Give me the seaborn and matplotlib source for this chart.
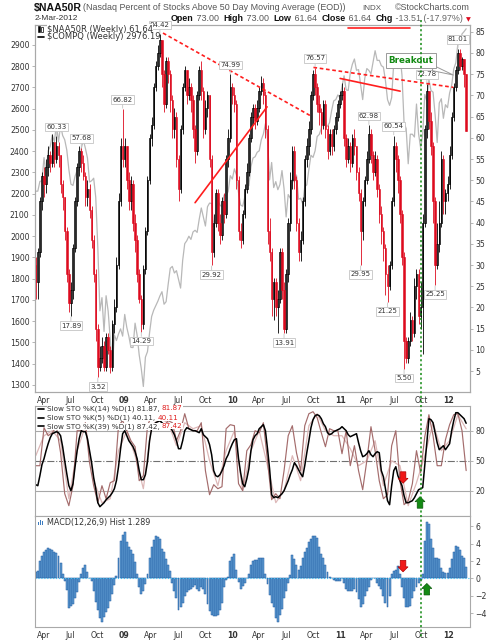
import numpy as np
import pandas as pd
import matplotlib
matplotlib.use("Agg")
import matplotlib.pyplot as plt
import matplotlib.dates as mdates
import matplotlib.transforms as mtransforms
from matplotlib.lines import Line2D
from matplotlib.patches import Polygon, Rectangle
import seaborn as sns

# ---------------- data ----------------
FIRST_WEEK = "2008-03-07"
naa_open_first = 30

naa_close = [
    26, 33, 45, 51, 49, 53, 56, 54, 59, 55,
    58, 56, 49, 46, 38, 28, 21, 24, 34, 45,
    53, 57, 54, 51, 46, 48, 43, 36, 28, 15,
    6, 8, 11, 6, 13, 10, 6, 16, 20, 30,
    45, 58, 55, 58, 50, 45, 49, 40, 36, 28,
    22, 16, 29, 38, 50, 60, 63, 72, 77, 80,
    83, 75, 68, 78, 75, 69, 62, 65, 55, 48,
    62, 72, 76, 70, 72, 69, 62, 57, 70, 76,
    71, 62, 67, 70, 55, 33, 40, 47, 40, 37,
    45, 42, 55, 60, 72, 70, 68, 50, 38, 36,
    42, 48, 52, 60, 65, 67, 64, 67, 71, 73,
    70, 62, 38, 33, 22, 26, 20, 22, 33, 24,
    15, 28, 40, 50, 57, 50, 40, 33, 36, 45,
    55, 58, 62, 70, 75, 72, 68, 66, 63, 68,
    62, 57, 61, 58, 62, 65, 68, 70, 71, 60,
    55, 58, 54, 60, 58, 52, 47, 38, 45, 50,
    55, 61, 56, 52, 55, 48, 42, 38, 34, 28,
    25, 30, 45, 58, 55, 50, 42, 32, 12, 8,
    12, 17, 14, 25, 28, 18, 20, 40, 62, 71,
    64, 58, 45, 30, 35, 40, 55, 45, 47, 49,
    56, 65, 72, 76, 80, 77, 78.5, 75.15, 61.64,
]
naa_high = [
    32, 34, 46, 52, 53, 55, 58, 57, 61, 59,
    60.33, 59, 56, 50, 46, 39, 29, 26, 35, 46,
    54, 58, 57.68, 56, 52, 50, 49, 44, 37, 29,
    16, 11, 13, 12, 14, 14, 11, 17, 22, 32,
    47, 60, 66.82, 60, 58, 52, 51, 50, 42, 37,
    29, 23, 30, 39, 51, 61, 65, 73, 78, 82,
    84.42, 83, 76, 79, 79, 76, 70, 67, 66, 56,
    63, 73, 77, 76, 74, 73, 70, 63, 71, 77,
    78, 72, 69, 71, 70, 56, 42, 48, 48, 42,
    46, 47, 56, 62, 74.99, 73, 72, 69, 51, 40,
    43, 49, 54, 61, 66, 68, 68, 69, 72, 74.5,
    74, 71, 63, 41, 34, 27, 27, 24, 34, 34,
    26, 29, 41, 52, 58, 58, 51, 41, 38, 46,
    56, 60, 64, 71, 76, 76.57, 73, 70, 67, 69,
    69, 63, 62, 62, 63, 66, 69, 71, 73, 72,
    61, 60, 59, 61, 62, 58, 53, 48, 46, 51,
    57, 62.98, 62, 57, 57, 56, 49, 44, 39, 35,
    30, 31, 46, 60.54, 59, 56, 51, 43, 33, 13,
    13, 19, 18, 27, 29, 29, 26, 42, 63, 72.78,
    71, 66, 59, 46, 40, 45, 57, 56, 48, 51,
    58, 66, 73, 77, 81.01, 81, 79, 78.5, 75.15,
]
naa_low = [
    22, 22, 32, 43, 46, 47, 51, 52, 53, 53,
    54, 53, 47, 43, 36, 26, 19, 17.89, 22, 33,
    44, 51, 52, 50, 44, 44, 41, 34, 26, 12,
    3.52, 5, 7, 5, 5, 9, 4.5, 5, 14, 19,
    29, 44, 53, 53, 48, 43, 43, 38, 33, 26,
    21, 14.29, 15, 28, 37, 49, 58, 62, 71, 76,
    79, 72, 66, 67, 73, 66, 60, 60, 53, 45,
    47, 61, 71, 68, 69, 66, 60, 54, 56, 69,
    69, 60, 61, 65, 53, 29.92, 32, 39, 38, 35,
    36, 40, 41, 53, 59, 68, 66, 48, 36, 34,
    35, 41, 47, 51, 59, 63, 62, 63, 66, 70,
    68, 60, 35, 31, 18, 17, 18, 14, 21, 22,
    13.91, 14, 26, 38, 48, 48, 38, 31, 31, 35,
    44, 53, 56, 61, 69, 70, 66, 63, 61, 62,
    60, 55, 56, 56, 57, 61, 64, 67, 69, 58,
    53, 54, 52, 53, 56, 50, 45, 29.95, 36, 44,
    49, 54, 54, 50, 51, 46, 40, 35, 31, 23,
    21.25, 24, 29, 44, 52, 47, 40, 30, 5.5, 7,
    7, 11, 12, 13, 22, 16, 15, 9, 39, 60,
    62, 56, 40, 25.25, 29, 33, 39, 42, 42, 45,
    48, 55, 64, 71, 75, 76, 76, 72, 61.64,
]
compq_close = [
    2212, 2212, 2258, 2261, 2370, 2290, 2402, 2423, 2476, 2445,
    2528, 2444, 2523, 2474, 2454, 2406, 2315, 2245, 2239, 2282,
    2310, 2310, 2414, 2452, 2414, 2368, 2255, 2261, 2273, 2183,
    1947, 1649, 1711, 1552, 1720, 1647, 1516, 1384, 1536, 1509,
    1540, 1564, 1530, 1632, 1571, 1529, 1477, 1476, 1591, 1534,
    1441, 1377, 1293, 1431, 1457, 1545, 1622, 1652, 1673, 1694,
    1719, 1739, 1680, 1692, 1774, 1849, 1858, 1827, 1838, 1797,
    1756, 1886, 1965, 1979, 2000, 1985, 2020, 2028, 2018, 2080,
    2133, 2090, 2048, 2139, 2156, 2154, 2045, 2112, 2167, 2147,
    2138, 2194, 2190, 2211, 2285, 2269, 2317, 2288, 2205, 2147,
    2141, 2183, 2243, 2238, 2327, 2368, 2374, 2395, 2402, 2454,
    2481, 2530, 2461, 2265, 2347, 2229, 2257, 2219, 2243, 2309,
    2223, 2091, 2196, 2179, 2269, 2255, 2288, 2174, 2179, 2153,
    2233, 2242, 2315, 2381, 2371, 2402, 2469, 2479, 2507, 2578,
    2518, 2518, 2535, 2592, 2637, 2643, 2665, 2653, 2703, 2755,
    2689, 2686, 2769, 2809, 2834, 2781, 2784, 2715, 2643, 2743,
    2789, 2780, 2764, 2820, 2873, 2827, 2828, 2803, 2796, 2732,
    2643, 2616, 2652, 2816, 2859, 2789, 2859, 2756, 2532, 2507,
    2341, 2480, 2480, 2467, 2622, 2483, 2415, 2479, 2667, 2637,
    2737, 2686, 2678, 2572, 2441, 2627, 2647, 2555, 2619, 2605,
    2674, 2710, 2787, 2816, 2906, 2903, 2952, 2963, 2976.19,
]
sto_k39 = [
    26, 25, 35, 46, 52, 60, 67, 73, 77, 78,
    79, 78, 75, 64, 50, 37, 25, 20, 27, 44,
    60, 72, 80, 79, 79, 72, 60, 48, 33, 22,
    8, 4, 6, 8, 11, 13, 15, 18, 22, 30,
    44, 62, 77, 80, 75, 70, 67, 64, 59, 52,
    40, 31, 31, 36, 49, 70, 82, 86, 88, 89,
    90, 88, 86, 85, 86, 84, 80, 76, 70, 62,
    62, 70, 80, 83, 82, 81, 80, 80, 79, 78,
    82, 76, 74, 72, 66, 56, 40, 35, 34, 36,
    40, 45, 52, 56, 62, 67, 71, 72, 52, 38,
    27, 24, 32, 42, 60, 71, 75, 77, 82, 84,
    86, 80, 62, 42, 16, 13, 14, 13, 15, 17,
    20, 25, 30, 36, 41, 48, 45, 41, 37, 34,
    45, 58, 70, 83, 91, 95, 96, 95, 92, 87,
    84, 78, 76, 77, 79, 80, 81, 82, 84, 82,
    80, 76, 74, 75, 76, 77, 68, 60, 54, 55,
    57, 60, 56, 54, 57, 59, 58, 40, 34, 22,
    10, 6, 25, 40, 44, 35, 30, 25, 15, 8,
    8, 9, 10, 13, 17, 21, 22, 23, 45, 68,
    92, 91, 88, 78, 68, 61, 63, 65, 61, 64,
    67, 80, 90, 98, 98, 96, 94, 92, 87.42,
]
sto_k5_biweekly = [
    45, 45, 83, 75, 78, 84, 58, 17, 5, 25,
    80, 80, 88, 48, 25, 8, 25, 12, 28, 30,
    85, 90, 80, 70, 64, 30, 35, 85, 95, 92,
    90, 85, 90, 88, 70, 80, 97, 82, 80, 80,
    88, 40, 16, 26, 22, 24, 82, 86, 85, 27,
    20, 60, 66, 80, 78, 88, 50, 11, 17, 12,
    40, 75, 85, 58, 40, 85, 97, 99, 93, 78,
    64, 82, 80, 80, 57, 80, 45, 65, 40, 21,
    50, 84, 60, 30, 12, 16, 65, 80, 30, 6,
    10, 27, 60, 38, 74, 96, 75, 45, 45, 71,
    86, 96, 97, 80, 40.11,
]
sto_k14_4weekly = [
    55, 75, 80, 70, 12, 60, 85, 30, 8, 12,
    60, 80, 55, 22, 85, 92, 88, 65, 88, 82,
    85, 50, 25, 60, 80, 20, 60, 80, 45, 8,
    20, 55, 30, 85, 97, 80, 75, 75, 62, 45,
    50, 70, 25, 50, 45, 5, 28, 55, 88, 60,
    70, 96, 81.87,
]
macd_hist = [
    0.8, 0.9, 2.0, 2.6, 3.1, 3.3, 3.5, 3.4, 3.3, 3.0,
    2.9, 2.6, 1.8, 0.5, -0.3, -1.3, -3.4, -3.2, -2.9, -2.3,
    -1.6, -0.4, 0.5, 1.2, 1.5, 0.7, 0.1, -0.3, -1.5, -2.7,
    -3.6, -4.6, -5.0, -4.4, -3.9, -3.4, -2.6, -1.8, -0.8, 0.3,
    2.3, 4.3, 5.0, 5.3, 4.2, 3.6, 3.3, 2.8, 1.9, 0.5,
    -1.0, -1.8, -1.5, -0.6, 0.5, 2.3, 3.6, 4.4, 4.9, 4.8,
    4.6, 3.4, 3.0, 2.2, 1.6, 0.9, -0.5, -1.5, -2.2, -3.6,
    -3.3, -2.8, -2.0, -1.6, -1.3, -1.2, -1.0, -0.8, -1.2, -1.4,
    -1.0, -1.2, -1.8, -2.9, -3.8, -4.2, -4.3, -4.3, -4.2, -3.6,
    -2.8, -1.0, -0.2, 0.2, 2.0, 2.5, 2.8, 1.0, -0.4, -1.2,
    -0.9, -0.5, 0.1, 0.5, 1.6, 2.0, 2.1, 2.1, 2.3, 2.3,
    2.4, 0.5, -0.6, -1.9, -2.8, -3.3, -4.6, -5.0, -4.2, -3.5,
    -2.3, -1.5, -0.5, 0.4, 2.7, 2.2, 1.6, 1.0, 1.4, 2.4,
    3.0, 3.5, 4.2, 4.6, 4.9, 4.9, 4.7, 3.6, 2.8, 2.4,
    1.5, 0.8, 0.2, 0.0, -0.2, -0.3, -0.3, -0.3, 0.1, -0.5,
    -1.2, -1.5, -1.5, -1.4, -1.2, -1.6, -2.4, -3.3, -3.0, -2.0,
    -1.5, -1.0, -0.2, 0.1, 0.0, -0.5, -0.9, -1.2, -2.0, -2.8,
    -3.3, -2.0, 0.5, 0.9, 1.0, 1.4, 0.5, -1.0, -2.2, -3.3,
    -3.3, -3.2, -2.2, -1.5, -1.0, -0.5, -0.2, 0.5, 4.3, 6.5,
    6.3, 4.5, 3.5, 2.4, 2.3, 2.2, 1.2, 0.8, 0.6, 0.6,
    1.2, 2.2, 3.0, 3.7, 3.6, 3.3, 2.6, 2.3, 1.289,
]

high_label_weeks = [10, 22, 42, 60, 94, 135, 161, 173, 189, 204]
low_label_weeks = [17, 30, 51, 85, 120, 157, 170, 178, 193]

# annotation lines: (week index, value) endpoints
dashed_trends = [((61.5, 84.7), (133.5, 65.0)), ((134.2, 76.6), (201.8, 71.9))]
solid_trends = [((77.0, 44.7), (111.8, 67.3)), ((147.1, 74.0), (176.1, 71.0)),
                ((151.0, 85.95), (181.0, 85.95))]
breakout_week = 186.1
breakout_tip = (201.8, 74.8)
breakout_text_at = (181.4, 78.2)
sto_arrows = [(177.5, 27.4, "down"), (185.7, 14.0, "up")]
macd_arrows = [(177.5, 0.76, "down"), (189.0, -0.58, "up")]

TICK_DATES = ["2008-04-01", "2008-07-01", "2008-10-01", "2009-01-01",
              "2009-04-01", "2009-07-01", "2009-10-01", "2010-01-01",
              "2010-04-01", "2010-07-01", "2010-10-01", "2011-01-01",
              "2011-04-01", "2011-07-01", "2011-10-01", "2012-01-01"]
TICK_LABELS = ["Apr", "Jul", "Oct", "09", "Apr", "Jul", "Oct", "10",
               "Apr", "Jul", "Oct", "11", "Apr", "Jul", "Oct", "12"]
NAA_TICKS = list(range(5, 90, 5))
COMPQ_TICKS = list(range(1300, 3000, 100))
STO_TICKS = [20, 50, 80]
MACD_TICKS = [-4, -2, 0, 2, 4, 6]

# ---------------- styling ----------------
sns.set_style("white")
plt.rcParams["font.family"] = ["DejaVu Sans"]
RED = "#DD0A1E"
TREND_RED = "#FF1E1E"
GREEN = "#138A13"
FRAME = "#A9A9A9"
TXT = "#333333"
W, H = 496, 640


def fx(x):
    return x / W


def fy(y):
    return 1 - y / H


dates = pd.date_range(FIRST_WEEK, periods=len(naa_close), freq="7D")
d0 = dates[0]


def wk(i):
    return d0 + pd.Timedelta(days=7 * i)


opens = np.array([naa_open_first] + naa_close[:-1], dtype=float)
closes = np.array(naa_close, dtype=float)
highs = np.array(naa_high, dtype=float)
lows = np.array(naa_low, dtype=float)

fig = plt.figure(figsize=(W / 100, H / 100), dpi=100)
L, AW = fx(35), 435 / W
ax_m = fig.add_axes([L, fy(392), AW, 367 / H])
ax_s = fig.add_axes([L, fy(516), AW, 110 / H])
ax_h = fig.add_axes([L, fy(627), AW, 111 / H])
xlim = (d0 - pd.Timedelta(days=2.5), dates[-1] + pd.Timedelta(days=13))
tick_dates = pd.to_datetime(TICK_DATES)

for ax in (ax_m, ax_s, ax_h):
    for sp in ax.spines.values():
        sp.set_color(FRAME)
        sp.set_linewidth(0.8)
    ax.set_xlim(*xlim)
    ax.set_xticks(tick_dates)
    ax.set_xticklabels(TICK_LABELS)
    ax.tick_params(axis="x", length=2, width=0.6, color=FRAME, labelsize=5.6,
                   labelcolor=TXT, pad=1.2)
    for t in ax.get_xticklabels():
        if t.get_text().isdigit():
            t.set_fontweight("bold")
ax_s.tick_params(axis="x", labelbottom=False)

# ---- main panel: COMPQ overlay (left axis) ----
sns.lineplot(x=dates, y=compq_close, ax=ax_m, color="#B8B8B8", lw=0.9)
ax_m.set_ylim(1267, 2994)
ax_m.set_yticks(COMPQ_TICKS)
ax_m.tick_params(axis="y", length=2.5, width=0.6, color=FRAME, labelsize=5.6,
                 labelcolor=TXT, pad=1.5)
ax_m.set_xlabel("")
ax_m.set_ylabel("")

# ---- main panel: NAA50R candles (right axis) ----
ax_c = ax_m.twinx()
for sp in ax_c.spines.values():
    sp.set_color(FRAME)
    sp.set_linewidth(0.8)
ax_c.set_ylim(0.06, 86.6)
ax_c.set_yticks(NAA_TICKS)
ax_c.tick_params(axis="y", length=2.5, width=0.6, color=FRAME, labelsize=5.6,
                 labelcolor=TXT, pad=1.5)
up = closes >= opens
body_lo = np.minimum(opens, closes)
body_h = np.maximum(np.abs(closes - opens), 0.4)
ax_c.vlines(dates[up], lows[up], highs[up], color="black", lw=0.6)
ax_c.vlines(dates[~up], lows[~up], highs[~up], color=RED, lw=0.6)
ax_c.bar(dates[up], body_h[up], bottom=body_lo[up], width=5.0,
         facecolor="white", edgecolor="black", linewidth=0.55)
ax_c.bar(dates[~up], body_h[~up], bottom=body_lo[~up], width=5.0,
         facecolor=RED, edgecolor=RED, linewidth=0.4)
ax_c.set_xlim(*xlim)

for (a, b) in dashed_trends:
    ax_c.plot([wk(a[0]), wk(b[0])], [a[1], b[1]], color=TREND_RED, lw=1.2,
              ls=(0, (2.2, 1.6)), zorder=5)
for (a, b) in solid_trends:
    ax_c.plot([wk(a[0]), wk(b[0])], [a[1], b[1]], color=TREND_RED, lw=1.2,
              zorder=5)


def tag(i, above):
    v = highs[i] if above else lows[i]
    ax_c.annotate(f"{v:.2f}", xy=(dates[i], v), xytext=(0, 4.5 if above else -4.5),
                  textcoords="offset points", ha="center",
                  va="bottom" if above else "top", fontsize=5, color=TXT, zorder=7,
                  bbox=dict(boxstyle="square,pad=0.18", fc="white", ec="#C4C4C4", lw=0.6),
                  arrowprops=dict(arrowstyle="-", color="#C4C4C4", lw=0.6,
                                  shrinkA=0, shrinkB=0.5))


for i in high_label_weeks:
    tag(i, True)
for i in low_label_weeks:
    tag(i, False)

ax_c.annotate("Breakout", xy=(wk(breakout_tip[0]), breakout_tip[1]),
              xytext=(wk(breakout_text_at[0]), breakout_text_at[1]),
              textcoords="data", ha="center", va="center", fontsize=6.3,
              fontweight="bold", color=GREEN, zorder=8,
              bbox=dict(boxstyle="square,pad=0.3", fc="white", ec="#9A9A9A", lw=0.7),
              arrowprops=dict(arrowstyle="wedge,tail_width=0.6", fc="white",
                              ec="#9A9A9A", lw=0.7, shrinkA=0, shrinkB=0))

# ---- stochastics panel ----
ax_s.axhline(80, color="#A8A8A8", lw=0.8)
ax_s.axhline(20, color="#A8A8A8", lw=0.8)
ax_s.axhline(50, color="#707070", lw=0.8, ls="-.")
sns.lineplot(x=dates[::4], y=sto_k14_4weekly, ax=ax_s, color="#DDB8B8", lw=0.9)
sns.lineplot(x=dates[::2], y=sto_k5_biweekly, ax=ax_s, color="#A46C6C", lw=0.85)
sns.lineplot(x=dates, y=sto_k39, ax=ax_s, color="black", lw=1.1)
ax_s.set_ylim(-5.3, 104.7)
ax_s.yaxis.tick_right()
ax_s.set_yticks(STO_TICKS)
ax_s.tick_params(axis="y", length=2.5, width=0.6, color=FRAME, labelsize=5.6,
                 labelcolor=TXT, pad=1.5)
ax_s.set_xlim(*xlim)
ax_s.set_xlabel("")
ax_s.set_ylabel("")

# ---- MACD histogram panel ----
ax_h.bar(dates, macd_hist, width=6.6, color="#5E9AD0", edgecolor="#1D5AA0",
         linewidth=0.35)
ax_h.axhline(0, color="#3DBDF0", lw=0.8, ls=":")
ax_h.set_ylim(-5.6, 7.2)
ax_h.yaxis.tick_right()
ax_h.set_yticks(MACD_TICKS)
ax_h.tick_params(axis="y", length=2.5, width=0.6, color=FRAME, labelsize=5.6,
                 labelcolor=TXT, pad=1.5)
ax_h.set_xlim(*xlim)


# ---- block arrows ----
def block_arrow(ax, i, v, direction, color, edge):
    pts = np.array([(0, 0), (5, 5), (2.8, 5), (2.8, 11.5), (-2.8, 11.5),
                    (-2.8, 5), (-5, 5)], dtype=float)
    if direction == "up":
        pts[:, 1] *= -1
    xnum = mdates.date2num(wk(i))
    tr = fig.dpi_scale_trans + mtransforms.ScaledTranslation(xnum, v, ax.transData)
    ax.add_patch(Polygon(pts / 100.0, closed=True, transform=tr, fc=color,
                         ec=edge, lw=0.5, zorder=9))


for (i, v, dr) in sto_arrows:
    if dr == "down":
        block_arrow(ax_s, i, v, dr, "#F01818", "#B00000")
    else:
        block_arrow(ax_s, i, v, dr, "#148A14", "#0A5A0A")
for (i, v, dr) in macd_arrows:
    if dr == "down":
        block_arrow(ax_h, i, v, dr, "#F01818", "#B00000")
    else:
        block_arrow(ax_h, i, v, dr, "#148A14", "#0A5A0A")

# ---- breakout vertical dotted line across all panels ----
btr = mtransforms.blended_transform_factory(ax_m.transData, fig.transFigure)
bx = mdates.date2num(wk(breakout_week))
fig.add_artist(Line2D([bx, bx], [fy(20), fy(637)], transform=btr, color=GREEN,
                      lw=1.1, ls=(0, (1.4, 1.6)), zorder=10))

# ---- header texts ----
HF = ["Liberation Sans", "DejaVu Sans"]
fig.text(fx(34), fy(8), "$NAA50R", fontsize=7.6, fontweight="bold",
         family=HF, color="#111", va="center", ha="left")
fig.text(fx(83), fy(8), "(Nasdaq Percent of Stocks Above 50 Day Moving Average (EOD))",
         fontsize=6.4, family=HF, color="#555", va="center", ha="left")
fig.text(fx(362), fy(8), "INDX", fontsize=5.8, family=HF, color="#555",
         va="center", ha="left")
fig.text(fx(470), fy(8), "\u00a9StockCharts.com", fontsize=6.4, family=HF,
         color="#555", va="center", ha="right")
fig.text(fx(35), fy(18.5), "2-Mar-2012", fontsize=6.0, family=HF, color="#333",
         va="center", ha="left")

renderer = fig.canvas.get_renderer()


def text_row(pieces, x_px, y_px, size, family, box=False):
    """Place consecutive text pieces on a shared baseline."""
    x = fx(x_px)
    for s, w, c in pieces:
        kw = {}
        if box:
            kw["bbox"] = dict(boxstyle="square,pad=0.02", fc="white", ec="none")
        t = fig.text(x, fy(y_px), s, fontsize=size, fontweight=w, family=family,
                     color=c, va="baseline", ha="left", zorder=12, **kw)
        bb = t.get_window_extent(renderer)
        x = bb.x1 / fig.bbox.width
    return x


hdr = [("Open", "bold", "#111"), (" 73.00  ", "normal", "#555"),
       ("High", "bold", "#111"), (" 73.00  ", "normal", "#555"),
       ("Low", "bold", "#111"), (" 61.64  ", "normal", "#555"),
       ("Close", "bold", "#111"), (" 61.64  ", "normal", "#555"),
       ("Chg", "bold", "#111"), (" -13.51 (-17.97%) ", "normal", "#666")]
xe = text_row(hdr, 171, 21, 6.4, HF)
fig.text(xe, fy(21), "\u25bc", fontsize=4.5, color=RED, va="baseline", ha="left")


# ---- legends ----
def hline_px(x1, x2, y, color="black", lw=1.2):
    fig.add_artist(Line2D([fx(x1), fx(x2)], [fy(y), fy(y)], transform=fig.transFigure,
                          color=color, lw=lw, zorder=12))


# candle icon
fig.add_artist(Rectangle((fx(37.5), fy(32)), 2.2 / W, 6 / H, transform=fig.transFigure,
                         fc="black", ec="black", lw=0.4, zorder=12))
fig.add_artist(Rectangle((fx(41), fy(31.5)), 2.2 / W, 5 / H, transform=fig.transFigure,
                         fc="white", ec="black", lw=0.5, zorder=12))
fig.text(fx(47), fy(29), f"$NAA50R (Weekly) {closes[-1]:.2f}", fontsize=6, color=TXT,
         va="center", ha="left", zorder=12,
         bbox=dict(boxstyle="square,pad=0.05", fc="white", ec="none"))
hline_px(38, 44, 36.5)
fig.text(fx(47), fy(36.5), f"$COMPQ (Weekly) {compq_close[-1]:.2f}", fontsize=6,
         color=TXT, va="center", ha="left", zorder=12)

sto_rows = [("Slow STO %K(14) %D(1) ", sto_k14_4weekly[-1], 408.5),
            ("Slow STO %K(5) %D(1) ", sto_k5_biweekly[-1], 417.5),
            ("Slow STO %K(39) %D(1) ", sto_k39[-1], 426.0)]
for lab, val, y in sto_rows:
    hline_px(38, 44, y)
    text_row([(f"{lab}{val:.2f}, ", "normal", TXT), (f"{val:.2f}", "normal", "#E02020")],
             47, y + 2.0, 5.2, ["DejaVu Sans"], box=True)

for k, hgt in enumerate([3, 5, 4]):
    fig.add_artist(Rectangle((fx(37.5 + 2 * k), fy(525)), 1.4 / W, hgt / H,
                             transform=fig.transFigure, fc="#3C7CC0", ec="none",
                             zorder=12))
fig.text(fx(47), fy(522), f"MACD(12,26,9) Hist {macd_hist[-1]:.3f}", fontsize=5.8,
         color=TXT, va="center", ha="left", zorder=12)

fig.savefig("out.png", dpi=100)
